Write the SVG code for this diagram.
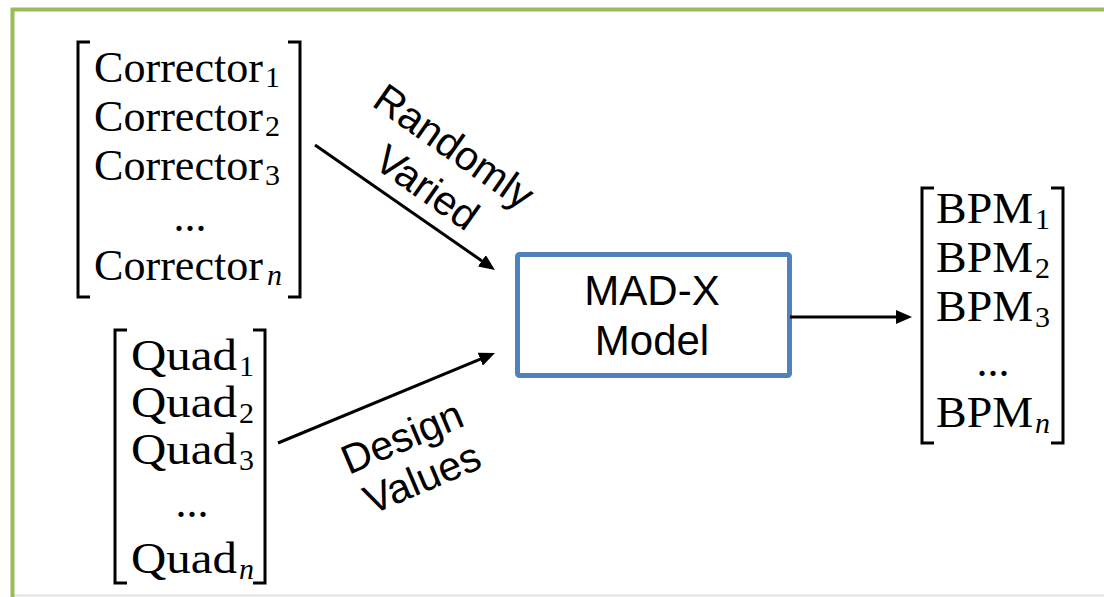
<svg xmlns="http://www.w3.org/2000/svg" width="1104" height="597" viewBox="0 0 1104 597">
<style>
.m{font-family:"Liberation Serif","Times New Roman",serif;font-size:44px;fill:#000}
.s{font-family:"Liberation Serif","Times New Roman",serif;font-size:30px;fill:#000}
.i{font-style:italic}
.lbl{font-family:"Liberation Sans",Arial,sans-serif;font-size:41px;fill:#000;text-anchor:middle}
.box{font-family:"Liberation Sans",Arial,sans-serif;font-size:42px;fill:#000;text-anchor:middle}
.br{fill:none;stroke:#000;stroke-width:3}
.c{fill:none;stroke:#000;stroke-width:3}
</style>
<defs>
<marker id="ah" viewBox="0 0 16 14" refX="8" refY="7" markerWidth="16" markerHeight="14" markerUnits="userSpaceOnUse" orient="auto">
<path d="M0,0 L16,7 L0,14 z" fill="#000"/>
</marker>
</defs>
<rect width="1104" height="597" fill="#fff"/>
<g id="frame">
<line x1="14" y1="595.5" x2="1104" y2="595.5" stroke="#e2e2e2" stroke-width="2"/>
<path d="M12.5,597 V9.5 H1104" fill="none" stroke="#9bbb59" stroke-width="4"/>
</g>
<g id="correctors">
<path class="br" d="M90,42 H78 V297 H90"/>
<path class="br" d="M288,42 H300 V297 H288"/>
<text class="m" x="94" y="82" textLength="169" lengthAdjust="spacingAndGlyphs">Corrector</text><text class="s" x="265" y="87">1</text>
<text class="m" x="94" y="131" textLength="169" lengthAdjust="spacingAndGlyphs">Corrector</text><text class="s" x="265" y="136">2</text>
<text class="m" x="94" y="180" textLength="169" lengthAdjust="spacingAndGlyphs">Corrector</text><text class="s" x="265" y="185">3</text>
<text class="m" x="190" y="231" text-anchor="middle">...</text>
<text class="m" x="94" y="280" textLength="169" lengthAdjust="spacingAndGlyphs">Corrector</text><text class="s i" x="267" y="285">n</text>
</g>
<g id="quads">
<path class="br" d="M127,330 H115 V583 H127"/>
<path class="br" d="M253,330 H265 V583 H253"/>
<text class="m" x="131" y="370" textLength="106" lengthAdjust="spacingAndGlyphs">Quad</text><text class="s" x="239" y="376">1</text>
<text class="m" x="131" y="417" textLength="106" lengthAdjust="spacingAndGlyphs">Quad</text><text class="s" x="239" y="423">2</text>
<text class="m" x="131" y="464" textLength="106" lengthAdjust="spacingAndGlyphs">Quad</text><text class="s" x="239" y="470">3</text>
<text class="m" x="192" y="517" text-anchor="middle">...</text>
<text class="m" x="131" y="573" textLength="106" lengthAdjust="spacingAndGlyphs">Quad</text><text class="s i" x="239" y="579">n</text>
</g>
<g id="madx">
<rect x="517.5" y="254.5" width="272" height="121" rx="2" fill="#fff" stroke="#4f81bd" stroke-width="5"/>
<text class="box" x="652" y="305">MAD-X</text>
<text class="box" x="652" y="355">Model</text>
</g>
<g id="bpms">
<path class="br" d="M934,188 H922 V443 H934"/>
<path class="br" d="M1051,188 H1063 V443 H1051"/>
<text class="m" x="936" y="223" textLength="97" lengthAdjust="spacingAndGlyphs">BPM</text><text class="s" x="1035" y="229">1</text>
<text class="m" x="936" y="272" textLength="97" lengthAdjust="spacingAndGlyphs">BPM</text><text class="s" x="1035" y="278">2</text>
<text class="m" x="936" y="321" textLength="97" lengthAdjust="spacingAndGlyphs">BPM</text><text class="s" x="1035" y="327">3</text>
<text class="m" x="993" y="376" text-anchor="middle">...</text>
<text class="m" x="936" y="427" textLength="97" lengthAdjust="spacingAndGlyphs">BPM</text><text class="s i" x="1035" y="433">n</text>
</g>
<g id="connectors">
<line class="c" x1="315" y1="145" x2="488.4" y2="265.4" marker-end="url(#ah)"/>
<line class="c" x1="278" y1="443" x2="487.6" y2="356.1" marker-end="url(#ah)"/>
<line class="c" x1="790" y1="317" x2="904" y2="317" marker-end="url(#ah)"/>
<text class="lbl" transform="translate(446,158) rotate(35)">Randomly</text>
<text class="lbl" transform="translate(419,199) rotate(35)">Varied</text>
<text class="lbl" transform="translate(407.5,450) rotate(-23)">Design</text>
<text class="lbl" transform="translate(427.5,491) rotate(-23)">Values</text>
</g>
</svg>
